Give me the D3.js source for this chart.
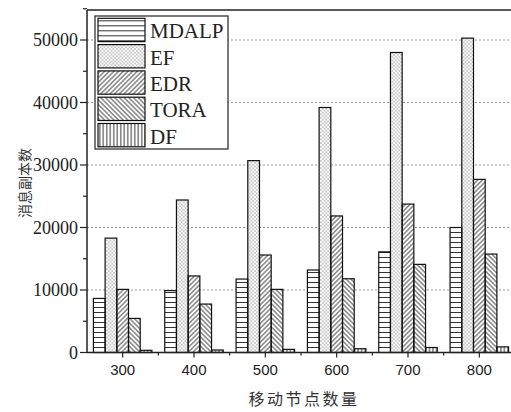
<!DOCTYPE html>
<html>
<head>
<meta charset="utf-8" />
<script src="https://cdn.jsdelivr.net/npm/d3@7"></script>
<style>
html, body { margin: 0; padding: 0; background: #fff; }
svg { display: block; }
.tick-y { font-family: "Liberation Serif", serif; font-size: 18px; fill: #222; }
.tick-x { font-family: "Liberation Sans", sans-serif; font-size: 15px; fill: #222; }
.legend-text { font-family: "Liberation Serif", serif; font-size: 21px; fill: #222; }
.axis-title { font-family: "Noto Sans CJK SC", sans-serif; fill: #333; }
</style>
</head>
<body>
<div id="chart"></div>
<script>
// data
var categories = ['300', '400', '500', '600', '700', '800'];
var seriesNames = ['MDALP', 'EF', 'EDR', 'TORA', 'DF'];
var mdalp = [8650, 9900, 11750, 13200, 16100, 20000];
var ef    = [18300, 24400, 30700, 39200, 48000, 50300];
var edr   = [10100, 12250, 15600, 21850, 23750, 27700];
var tora  = [5450, 7750, 10100, 11800, 14100, 15750];
var df    = [350, 400, 500, 600, 800, 900];
var yTicks = [0, 10000, 20000, 30000, 40000, 50000];
var xTitle = '移动节点数量';
var yTitle = '消息副本数';

var seriesValues = [mdalp, ef, edr, tora, df];
var patternIds = ['p-hline', 'p-dot', 'p-fwd', 'p-back', 'p-vline'];

var W = 511, H = 412;
var plotL = 87, plotT = 10, plotR = 515, plotB = 352.5;
var hatch = '#333';

var svg = d3.select('#chart').append('svg')
	.attr('width', W)
	.attr('height', H);

// fill patterns
var defs = svg.append('defs');

var ph = defs.append('pattern').attr('id', 'p-hline')
	.attr('patternUnits', 'userSpaceOnUse').attr('width', 6).attr('height', 5);
ph.append('line').attr('x1', 0).attr('x2', 6).attr('y1', 2.5).attr('y2', 2.5)
	.attr('stroke', hatch).attr('stroke-width', 1);

var pd = defs.append('pattern').attr('id', 'p-dot')
	.attr('patternUnits', 'userSpaceOnUse').attr('width', 3.6).attr('height', 3.6);
pd.append('circle').attr('cx', 0.9).attr('cy', 0.9).attr('r', 0.7).attr('fill', '#777');
pd.append('circle').attr('cx', 2.7).attr('cy', 2.7).attr('r', 0.7).attr('fill', '#777');

var pf = defs.append('pattern').attr('id', 'p-fwd')
	.attr('patternUnits', 'userSpaceOnUse').attr('width', 3.3).attr('height', 4)
	.attr('patternTransform', 'rotate(45)');
pf.append('line').attr('x1', 1.65).attr('x2', 1.65).attr('y1', 0).attr('y2', 4)
	.attr('stroke', hatch).attr('stroke-width', 0.9);

var pb = defs.append('pattern').attr('id', 'p-back')
	.attr('patternUnits', 'userSpaceOnUse').attr('width', 3.3).attr('height', 4)
	.attr('patternTransform', 'rotate(-45)');
pb.append('line').attr('x1', 1.65).attr('x2', 1.65).attr('y1', 0).attr('y2', 4)
	.attr('stroke', hatch).attr('stroke-width', 0.9);

var pv = defs.append('pattern').attr('id', 'p-vline')
	.attr('patternUnits', 'userSpaceOnUse').attr('width', 3.5).attr('height', 4);
pv.append('line').attr('x1', 1.75).attr('x2', 1.75).attr('y1', 0).attr('y2', 4)
	.attr('stroke', hatch).attr('stroke-width', 1);

// scales
var x = d3.scaleBand().domain(categories).range([plotL, plotR])
	.paddingInner(0.18).paddingOuter(0.09);
var xs = d3.scaleBand().domain(seriesNames).range([0, x.bandwidth()]);
var y = d3.scaleLinear().domain([0, 54800]).range([plotB, plotT]);

// grid lines
svg.append('g').selectAll('line')
	.data(yTicks.filter(function(d) { return d > 0; }))
	.enter().append('line')
	.attr('x1', plotL).attr('x2', W)
	.attr('y1', function(d) { return y(d); })
	.attr('y2', function(d) { return y(d); })
	.attr('stroke', '#999').attr('stroke-width', 1)
	.attr('stroke-dasharray', '2,2');

// bars
var rows = categories.map(function(c, i) {
	return seriesNames.map(function(s, j) {
		return { cat: c, series: s, value: seriesValues[j][i], pat: patternIds[j] };
	});
});

var groups = svg.append('g').selectAll('g')
	.data(rows)
	.enter().append('g')
	.attr('transform', function(d, i) { return 'translate(' + x(categories[i]) + ',0)'; });

groups.selectAll('rect.bg')
	.data(function(d) { return d; })
	.enter().append('rect')
	.classed('bg', true)
	.attr('x', function(d) { return xs(d.series); })
	.attr('width', xs.bandwidth())
	.attr('y', function(d) { return y(d.value); })
	.attr('height', function(d) { return plotB - y(d.value); })
	.attr('fill', 'white');

groups.selectAll('rect.pat')
	.data(function(d) { return d; })
	.enter().append('rect')
	.classed('pat', true)
	.attr('x', function(d) { return xs(d.series); })
	.attr('width', xs.bandwidth())
	.attr('y', function(d) { return y(d.value); })
	.attr('height', function(d) { return plotB - y(d.value); })
	.attr('fill', function(d) { return 'url(#' + d.pat + ')'; })
	.attr('stroke', '#111')
	.attr('stroke-width', 1.2);

// axes frame
var axisColor = '#222';
svg.append('line').attr('x1', plotL).attr('x2', plotL).attr('y1', plotT).attr('y2', plotB)
	.attr('stroke', axisColor).attr('stroke-width', 1.5);
svg.append('line').attr('x1', plotL).attr('x2', W).attr('y1', plotB).attr('y2', plotB)
	.attr('stroke', axisColor).attr('stroke-width', 1.5);
svg.append('line').attr('x1', plotL).attr('x2', W).attr('y1', plotT).attr('y2', plotT)
	.attr('stroke', axisColor).attr('stroke-width', 1.5);

// y ticks
var yAxis = svg.append('g');
yAxis.selectAll('line.major').data(yTicks).enter().append('line')
	.attr('x1', plotL - 7).attr('x2', plotL)
	.attr('y1', function(d) { return y(d); }).attr('y2', function(d) { return y(d); })
	.attr('stroke', axisColor).attr('stroke-width', 1.2);
yAxis.selectAll('line.minor').data(yTicks.map(function(d) { return d + 5000; })).enter().append('line')
	.attr('x1', plotL - 4).attr('x2', plotL)
	.attr('y1', function(d) { return y(d); }).attr('y2', function(d) { return y(d); })
	.attr('stroke', axisColor).attr('stroke-width', 1.2);
yAxis.selectAll('text').data(yTicks).enter().append('text')
	.attr('class', 'tick-y')
	.attr('x', plotL - 9)
	.attr('y', function(d) { return y(d); })
	.attr('dy', '0.36em')
	.attr('text-anchor', 'end')
	.text(function(d) { return d; });

// x ticks
var xAxis = svg.append('g');
xAxis.selectAll('line.major').data(categories).enter().append('line')
	.attr('x1', function(d) { return x(d) + x.bandwidth() / 2; })
	.attr('x2', function(d) { return x(d) + x.bandwidth() / 2; })
	.attr('y1', plotB).attr('y2', plotB + 5)
	.attr('stroke', axisColor).attr('stroke-width', 1.2);
xAxis.selectAll('line.minor').data(categories.slice(1)).enter().append('line')
	.attr('x1', function(d) { return x(d) - x.step() * x.paddingInner() / 2; })
	.attr('x2', function(d) { return x(d) - x.step() * x.paddingInner() / 2; })
	.attr('y1', plotB).attr('y2', plotB + 3)
	.attr('stroke', axisColor).attr('stroke-width', 1.2);
xAxis.selectAll('text').data(categories).enter().append('text')
	.attr('class', 'tick-x')
	.attr('x', function(d) { return x(d) + x.bandwidth() / 2; })
	.attr('y', 375)
	.attr('text-anchor', 'middle')
	.text(function(d) { return d; });

// axis titles
svg.append('text')
	.attr('class', 'axis-title')
	.attr('x', 304).attr('y', 405)
	.attr('text-anchor', 'middle')
	.style('font-size', '16px')
	.style('letter-spacing', '2.5px')
	.text(xTitle);

svg.append('text')
	.attr('class', 'axis-title')
	.attr('transform', 'translate(30,183) rotate(-90)')
	.attr('text-anchor', 'middle')
	.style('font-size', '14px')
	.text(yTitle);

// legend
var legend = svg.append('g');
legend.append('rect')
	.attr('x', 95).attr('y', 16).attr('width', 133).attr('height', 133)
	.attr('fill', 'white').attr('stroke', '#333').attr('stroke-width', 1.3);

var item = legend.selectAll('g.item')
	.data(seriesNames)
	.enter().append('g')
	.attr('transform', function(d, i) { return 'translate(98,' + (18.3 + i * 26.3) + ')'; });
item.append('rect')
	.attr('width', 47).attr('height', 23.3)
	.attr('fill', function(d, i) { return 'url(#' + patternIds[i] + ')'; })
	.attr('stroke', '#111').attr('stroke-width', 1.2);
item.append('text')
	.attr('class', 'legend-text')
	.attr('x', 52).attr('y', 20)
	.text(function(d) { return d; });
</script>
</body>
</html>
